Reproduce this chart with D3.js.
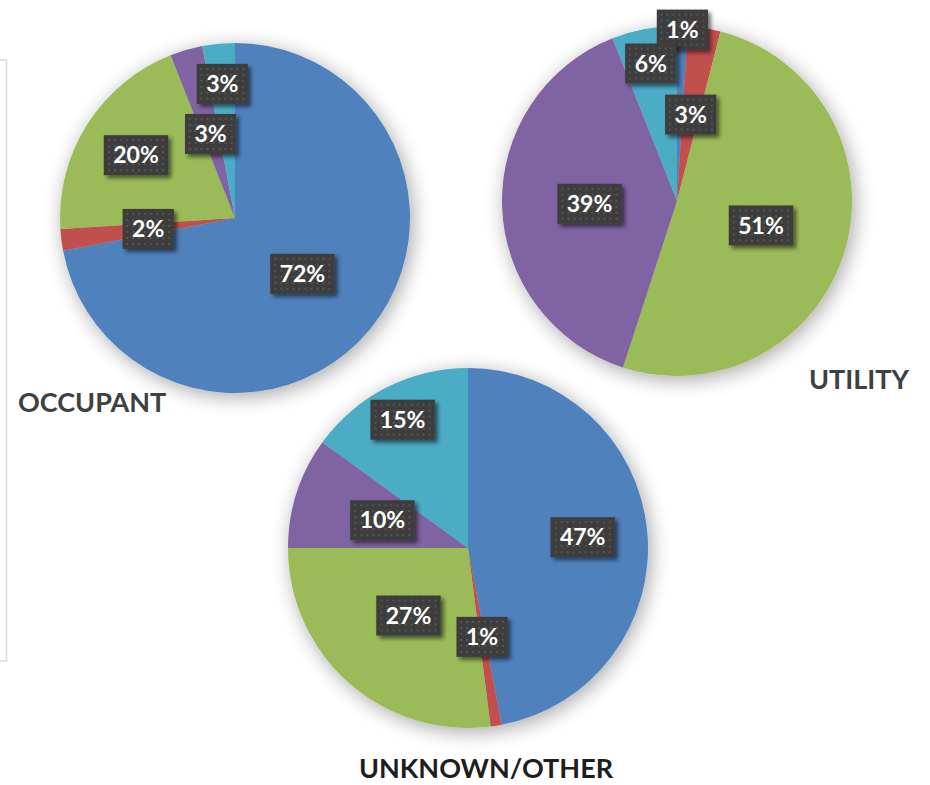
<!DOCTYPE html>
<html>
<head>
<meta charset="utf-8">
<script src="https://d3js.org/d3.v7.min.js"></script>
<style>
  body { margin: 0; background: #fff; }
  svg { display: block; }
</style>
</head>
<body>
<div id="vis"></div>
<script>
// data
var categories = ["Blue", "Red", "Green", "Purple", "Teal"];
var occupantValues = [72, 2, 20, 3, 3];
var utilityValues = [1, 3, 51, 39, 6];
var unknownValues = [47, 1, 27, 10, 15];
var pieTitles = ["OCCUPANT", "UTILITY", "UNKNOWN/OTHER"];

var colors = ["#4F81BD", "#C0504D", "#9BBB59", "#8064A2", "#4BACC6"];

var outer_width = 930;
var outer_height = 785;

// label distance from centre, as fraction of radius (excel best fit)
var occupantLabelFrac = [0.5, 0.5, 0.67, 0.5, 0.77];
var utilityLabelFrac = [0.98, 0.5, 0.5, 0.5, 0.8];
var unknownLabelFrac = [0.64, 0.5, 0.5, 0.5, 0.8];

var pies = [
  {title: pieTitles[0], values: occupantValues, frac: occupantLabelFrac,
   cx: 235, cy: 218, r: 175, tx: 18, ty: 412, tcolor: "#404040", anchor: "start"},
  {title: pieTitles[1], values: utilityValues, frac: utilityLabelFrac,
   cx: 677, cy: 201, r: 175, tx: 909, ty: 389, tcolor: "#404040", anchor: "end"},
  {title: pieTitles[2], values: unknownValues, frac: unknownLabelFrac,
   cx: 468, cy: 548, r: 180, tx: 486, ty: 778, tcolor: "#1e1e1e", anchor: "middle"}
];

var svg = d3.select("#vis")
  .append("svg")
  .attr("width", outer_width)
  .attr("height", outer_height);

var defs = svg.append("defs");

// soft shadow round the pies
var pieShadow = defs.append("filter")
  .attr("id", "pieShadow")
  .attr("x", "-20%").attr("y", "-20%")
  .attr("width", "140%").attr("height", "140%");
pieShadow.append("feGaussianBlur")
  .attr("in", "SourceAlpha")
  .attr("stdDeviation", 10)
  .attr("result", "blur");
pieShadow.append("feOffset")
  .attr("in", "blur").attr("dx", 3).attr("dy", 4)
  .attr("result", "off");
pieShadow.append("feComponentTransfer")
  .attr("in", "off").attr("result", "soft")
  .append("feFuncA").attr("type", "linear").attr("slope", 0.35);
var m1 = pieShadow.append("feMerge");
m1.append("feMergeNode").attr("in", "soft");
m1.append("feMergeNode").attr("in", "SourceGraphic");

// label box shadow
var boxShadow = defs.append("filter")
  .attr("id", "boxShadow")
  .attr("x", "-30%").attr("y", "-30%")
  .attr("width", "160%").attr("height", "160%");
boxShadow.append("feGaussianBlur")
  .attr("in", "SourceAlpha")
  .attr("stdDeviation", 2)
  .attr("result", "blur");
boxShadow.append("feOffset")
  .attr("in", "blur").attr("dx", 3).attr("dy", 3)
  .attr("result", "off");
boxShadow.append("feComponentTransfer")
  .attr("in", "off").attr("result", "soft")
  .append("feFuncA").attr("type", "linear").attr("slope", 0.55);
var m2 = boxShadow.append("feMerge");
m2.append("feMergeNode").attr("in", "soft");
m2.append("feMergeNode").attr("in", "SourceGraphic");

// dotted texture for the label boxes
var dots = defs.append("pattern")
  .attr("id", "dots")
  .attr("patternUnits", "userSpaceOnUse")
  .attr("width", 6).attr("height", 6);
dots.append("rect")
  .attr("width", 6).attr("height", 6)
  .attr("fill", "#3d3d3d");
dots.append("rect")
  .attr("x", 2).attr("y", 2)
  .attr("width", 2).attr("height", 2)
  .attr("fill", "#555555");

// left panel border
svg.append("rect")
  .attr("x", -10).attr("y", 60)
  .attr("width", 16.5).attr("height", 601)
  .attr("fill", "none")
  .style("stroke", "#d9d9d9")
  .style("stroke-width", 1.5);

var pie = d3.pie()
  .sort(null)
  .value(function(d){ return d; });

pies.forEach(function(p){
  var g = svg.append("g")
    .attr("transform", "translate(" + p.cx + "," + p.cy + ")");

  var arc = d3.arc()
    .innerRadius(0)
    .outerRadius(p.r);

  var arcs = pie(p.values);

  g.append("g")
    .attr("filter", "url(#pieShadow)")
    .selectAll("path")
    .data(arcs)
    .enter()
    .append("path")
    .attr("d", arc)
    .attr("fill", function(d, i){ return colors[i]; })
    .style("stroke", "none");

  // title
  svg.append("text")
    .attr("x", p.tx)
    .attr("y", p.ty)
    .attr("text-anchor", p.anchor)
    .style("font-family", "Lato, 'Noto Sans', sans-serif")
    .style("font-weight", "bold")
    .style("font-size", "27px")
    .style("fill", p.tcolor)
    .text(p.title);

  // data labels
  var labels = g.selectAll(".lbl")
    .data(arcs)
    .enter()
    .append("g")
    .attr("class", "lbl")
    .attr("transform", function(d, i){
      var rr = p.r * p.frac[i];
      var c = d3.arc().innerRadius(rr).outerRadius(rr).centroid(d);
      return "translate(" + c[0] + "," + c[1] + ")";
    });

  labels.each(function(d){
    var lg = d3.select(this);
    var box = lg.append("rect")
      .attr("fill", "url(#dots)")
      .attr("filter", "url(#boxShadow)");
    var t = lg.append("text")
      .attr("text-anchor", "middle")
      .attr("dy", "0.36em")
      .style("font-family", "Lato, 'Noto Sans', sans-serif")
      .style("font-weight", "bold")
      .style("font-size", "23px")
      .style("fill", "#fff")
      .text(d3.format(".0f")(d.data) + "%");
    var w = t.node().getComputedTextLength() + 19;
    box.attr("x", -w / 2).attr("y", -20)
      .attr("width", w).attr("height", 40);
  });
});
</script>
</body>
</html>
